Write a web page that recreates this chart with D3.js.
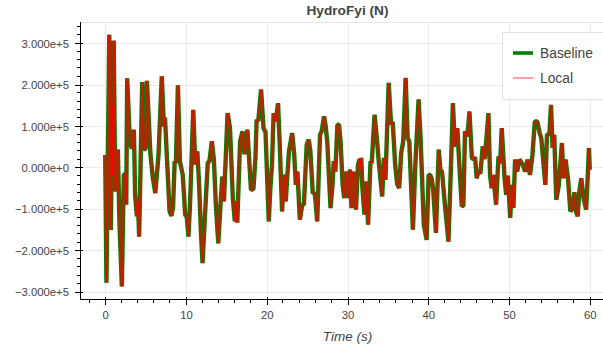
<!DOCTYPE html>
<html>
<head>
<meta charset="utf-8">
<script src="https://cdn.jsdelivr.net/npm/d3@7"></script>
<style>
  html, body { margin: 0; padding: 0; background: #fff; overflow: hidden; }
  text { font-family: "Liberation Sans", Arial, Helvetica, sans-serif; }
</style>
</head>
<body>
<svg id="chart" width="603" height="349"></svg>
<script>
// ---- data -------------------------------------------------------------
const chartTitle = "HydroFyi (N)";
const xAxisLabel = "Time (s)";
const seriesNames = ["Baseline", "Local"];

const timeSeconds = [
  0.0, 0.15, 0.5, 0.7, 0.85, 0.95, 1.05, 1.24, 1.56, 1.77, 2.06, 2.3, 2.5, 2.6, 2.72, 3.05, 3.3, 3.55, 3.7, 3.92,
  4.05, 4.2, 4.58, 4.8, 5.0, 5.16, 5.6, 5.9, 6.2, 6.6, 7.0, 7.27, 7.4, 7.7, 7.97, 8.2, 8.4, 8.6, 8.75, 9.0,
  9.25, 9.6, 9.9, 10.1, 10.3, 10.5, 10.9, 11.15, 11.4, 11.6, 11.85, 12.05, 12.4, 12.7, 12.9, 13.2, 13.45, 13.7, 14.0, 14.3,
  14.5, 14.7, 15.15, 15.45, 15.8, 16.05, 16.2, 16.35, 16.7, 17.0, 17.25, 17.6, 18.05, 18.35, 18.6, 18.75, 18.95, 19.3, 19.6, 19.85,
  20.25, 20.45, 20.65, 20.85, 21.1, 21.4, 21.6, 21.9, 22.1, 22.25, 22.35, 22.75, 23.15, 23.4, 23.6, 23.8, 24.1, 24.4, 24.6, 24.95,
  25.2, 25.4, 25.7, 25.95, 26.25, 26.6, 26.8, 27.1, 27.3, 27.5, 27.9, 28.15, 28.3, 28.5, 28.75, 28.95, 29.15, 29.4, 29.6, 29.8,
  30.1, 30.3, 30.5, 30.7, 31.05, 31.3, 31.5, 31.6, 31.7, 31.85, 32.1, 32.3, 32.55, 32.85, 33.0, 33.35, 33.65, 33.9, 34.3, 34.5,
  34.7, 35.1, 35.4, 35.6, 35.9, 36.15, 36.4, 36.65, 36.9, 37.2, 37.45, 37.65, 38.1, 38.4, 38.8, 39.05, 39.45, 39.8, 40.05, 40.25,
  40.4, 40.6, 40.95, 41.3, 41.5, 41.7, 42.1, 42.5, 42.9, 43.05, 43.3, 43.6, 43.85, 44.15, 44.35, 44.55, 44.85, 45.1, 45.4, 45.6,
  45.8, 46.0, 46.2, 46.45, 46.75, 47.0, 47.45, 47.65, 47.85, 48.05, 48.4, 48.7, 48.9, 49.1, 49.45, 49.65, 49.85, 50.15, 50.35, 50.55,
  50.75, 51.0, 51.3, 51.7, 52.0, 52.3, 52.6, 52.9, 53.2, 53.5, 53.8, 54.0, 54.3, 54.5, 54.7, 55.0, 55.2, 55.4, 55.6, 55.85,
  56.15, 56.55, 56.75, 57.0, 57.3, 57.6, 57.9, 58.1, 58.3, 58.5, 58.7, 58.95, 59.2, 59.55, 59.75, 59.9, 60.0
];

// hydrodynamic force, N
const baselineForce = [
  30000, -278000, 320000, -151000, 150000, -20000, 306000, -58000, 43000, -138000, -287000, -18000, -15000, -90000, 215000, 63000, 45000, 91000, -66000, -118000,
  -80000, -167000, 206000, 43000, 45000, 209000, 31000, -26000, -62000, 30000, 220000, 99000, 120000, 0, -106000, -117000, -96000, 15000, 10000, 198000,
  14000, -18000, -114000, -120000, -167000, -90000, 139000, 7000, 39000, -30000, -155000, -231000, -98000, 11000, 15000, 63000, 20000, -90000, -183000, -82000,
  -22000, -82000, 131000, 95000, -74000, -130000, -82000, -133000, 63000, 87000, 32000, 91000, -54000, -52000, 23000, 115000, 112000, 188000, 95000, 85000,
  -130000, -50000, 7000, 131000, 111000, 155000, 60000, -106000, -22000, -22000, -82000, 39000, 83000, 32000, -42000, -10000, -126000, -90000, -90000, 55000,
  67000, 40000, -62000, -62000, -130000, 79000, 87000, 123000, 100000, 60000, -98000, -40000, 15000, -10000, 103000, 103000, 60000, -42000, -74000, -10000,
  -74000, -5000, -98000, -10000, -102000, 7000, 20000, -5000, 23000, -50000, -114000, -34000, -138000, 15000, 10000, 127000, 67000, 7000, -70000, 23000,
  -30000, 204000, 103000, 110000, 7000, -40000, -50000, 35000, 63000, 216000, 71000, 63000, -150000, 7000, 164000, 70000, -138000, -175000, -18000, -18000,
  -26000, -50000, -158000, 43000, -5000, -10000, -98000, -179000, 55000, 155000, 50000, 95000, 7000, -94000, -92000, 87000, 75000, 135000, 23000, 20000,
  25000, -26000, -10000, -15000, 51000, 20000, 131000, -18000, -50000, -18000, -90000, 27000, 10000, 95000, -26000, -66000, -20000, -122000, -42000, -98000,
  19000, -10000, 19000, 7000, -10000, 19000, -18000, 30000, 111000, 111000, 83000, 70000, 2000, -42000, 79000, 80000, 151000, 47000, 79000, -78000,
  -45000, 59000, -26000, 19000, -26000, -106000, -98000, -60000, -106000, -118000, -60000, -26000, -70000, -102000, -20000, 47000, -6000
];

const localForce = [
  30000, -278000, 320000, -151000, 150000, -20000, 306000, -58000, 43000, -138000, -287000, -18000, -15000, -90000, 215000, 63000, 45000, 91000, -66000, -118000,
  -80000, -167000, 206000, 43000, 45000, 209000, 31000, -26000, -62000, 30000, 220000, 99000, 120000, 0, -106000, -117000, -96000, 15000, 10000, 198000,
  14000, -18000, -114000, -120000, -167000, -90000, 139000, 7000, 39000, -30000, -155000, -231000, -98000, 11000, 15000, 63000, 20000, -90000, -183000, -82000,
  -22000, -82000, 131000, 95000, -74000, -130000, -82000, -133000, 63000, 87000, 32000, 91000, -54000, -52000, 23000, 115000, 112000, 188000, 95000, 85000,
  -130000, -50000, 7000, 131000, 111000, 155000, 60000, -106000, -22000, -22000, -82000, 39000, 83000, 32000, -42000, -10000, -126000, -90000, -90000, 55000,
  67000, 40000, -62000, -62000, -130000, 79000, 87000, 123000, 100000, 60000, -98000, -40000, 15000, -10000, 103000, 103000, 60000, -42000, -74000, -10000,
  -74000, -5000, -98000, -10000, -102000, 7000, 20000, -5000, 23000, -50000, -114000, -34000, -138000, 15000, 10000, 127000, 67000, 7000, -70000, 23000,
  -30000, 204000, 103000, 110000, 7000, -40000, -50000, 35000, 63000, 216000, 71000, 63000, -150000, 7000, 164000, 70000, -138000, -175000, -18000, -18000,
  -26000, -50000, -158000, 43000, -5000, -10000, -98000, -179000, 55000, 155000, 50000, 95000, 7000, -94000, -92000, 87000, 75000, 135000, 23000, 20000,
  25000, -26000, -10000, -15000, 51000, 20000, 131000, -18000, -50000, -18000, -90000, 27000, 10000, 95000, -26000, -66000, -20000, -122000, -42000, -98000,
  19000, -10000, 19000, 7000, -10000, 19000, -18000, 30000, 111000, 111000, 83000, 70000, 2000, -42000, 79000, 80000, 151000, 47000, 79000, -78000,
  -45000, 59000, -26000, 19000, -26000, -106000, -98000, -60000, -106000, -118000, -60000, -26000, -70000, -102000, -20000, 47000, -6000
];

const xTickValues = [0, 10, 20, 30, 40, 50, 60];
const xTickLabels = ["0", "10", "20", "30", "40", "50", "60"];
const yTickValues = [-300000, -200000, -100000, 0, 100000, 200000, 300000];
const yTickLabels = ["\u22123.000e+5", "\u22122.000e+5", "\u22121.000e+5", "0.000e+0", "1.000e+5", "2.000e+5", "3.000e+5"];

// ---- layout -----------------------------------------------------------
const frame = { left: 81, right: 614, top: 22, bottom: 299 };
const xDomain = [-3, 63];
const yDomain = [-317500, 351000];
const colors = { baseline: "#008000", local: "#ff0000", grid: "#ececec", text: "#444444" };

const svg = d3.select("#chart");
const x = d3.scaleLinear().domain(xDomain).range([frame.left, frame.right]);
const y = d3.scaleLinear().domain(yDomain).range([frame.bottom, frame.top]);

const xMinor = d3.range(-2, 63, 2).filter(v => v % 10 !== 0);
const yMinor = d3.range(-300000, 351000, 20000).filter(v => v % 100000 !== 0);

// grid
const grid = svg.append("g").attr("shape-rendering", "crispEdges");
grid.selectAll("line.gx").data(xTickValues).join("line")
  .attr("x1", d => Math.round(x(d)) + 0.5).attr("x2", d => Math.round(x(d)) + 0.5)
  .attr("y1", frame.top).attr("y2", frame.bottom)
  .attr("stroke", colors.grid);
grid.selectAll("line.gy").data(yTickValues).join("line")
  .attr("y1", d => Math.round(y(d)) + 0.5).attr("y2", d => Math.round(y(d)) + 0.5)
  .attr("x1", frame.left).attr("x2", frame.right)
  .attr("stroke", colors.grid);
// plot outline (top edge)
grid.append("line")
  .attr("x1", frame.left).attr("x2", frame.right)
  .attr("y1", frame.top + 0.5).attr("y2", frame.top + 0.5)
  .attr("stroke", "#e5e5e5");

// series
svg.append("clipPath").attr("id", "plot-clip").append("rect")
  .attr("x", frame.left).attr("y", frame.top)
  .attr("width", frame.right - frame.left).attr("height", frame.bottom - frame.top);

const line = d3.line().x(d => x(d[0])).y(d => y(d[1]));
const baselinePts = timeSeconds.map((t, i) => [t, baselineForce[i]]);
const localPts = timeSeconds.map((t, i) => [t, localForce[i]]);
const localSegments = d3.pairs(localPts);

const plot = svg.append("g").attr("clip-path", "url(#plot-clip)");
plot.append("path").datum(baselinePts)
  .attr("d", line).attr("fill", "none")
  .attr("stroke", colors.baseline).attr("stroke-width", 4.4)
  .attr("stroke-linejoin", "bevel");
// the local run is stroked segment by segment so overlapping strokes build up
plot.append("g").selectAll("line").data(localSegments).join("line")
  .attr("x1", d => x(d[0][0])).attr("y1", d => y(d[0][1]))
  .attr("x2", d => x(d[1][0])).attr("y2", d => y(d[1][1]))
  .attr("stroke", colors.local).attr("stroke-width", 2.5)
  .attr("stroke-opacity", 0.65);

// axes
const xAxis = d3.axisBottom(x)
  .tickValues(xTickValues)
  .tickFormat((d, i) => xTickLabels[i])
  .tickSizeInner(6).tickSizeOuter(0).tickPadding(5);
const gx = svg.append("g").attr("transform", `translate(0,${frame.bottom})`).call(xAxis);
gx.select(".domain").attr("d", `M${frame.left},0.5H${frame.right}`).attr("stroke", "#000");
gx.selectAll(".tick line").attr("y1", -2).attr("y2", 6).attr("stroke", "#000");
gx.selectAll(".tick text")
  .attr("fill", colors.text).attr("font-size", "11.3px")
  .attr("font-family", "Liberation Sans, Arial, sans-serif")
  .attr("dy", null).attr("y", 20);
gx.selectAll("line.minor").data(xMinor).join("line").attr("class", "minor")
  .attr("x1", d => x(d)).attr("x2", d => x(d))
  .attr("y1", 0).attr("y2", 4).attr("stroke", "#000");

const yAxis = d3.axisLeft(y)
  .tickValues(yTickValues)
  .tickFormat((d, i) => yTickLabels[i])
  .tickSizeInner(6).tickSizeOuter(0).tickPadding(5);
const gy = svg.append("g").attr("transform", `translate(${frame.left},0)`).call(yAxis);
gy.select(".domain").attr("d", `M-0.5,${frame.top}V${frame.bottom + 1}`).attr("stroke", "#000");
gy.selectAll(".tick line").attr("x1", 2).attr("x2", -6).attr("stroke", "#000");
gy.selectAll(".tick text")
  .attr("fill", colors.text).attr("font-size", "11.3px")
  .attr("font-family", "Liberation Sans, Arial, sans-serif")
  .attr("x", -12).attr("dy", "0.36em");
gy.selectAll("line.minor").data(yMinor).join("line").attr("class", "minor")
  .attr("y1", d => y(d)).attr("y2", d => y(d))
  .attr("x1", 0).attr("x2", -4).attr("stroke", "#000");
svg.selectAll(".domain, .tick line, line.minor").attr("shape-rendering", "crispEdges");

// axis label
svg.append("text")
  .attr("x", (frame.left + frame.right) / 2).attr("y", 340.5)
  .attr("text-anchor", "middle")
  .attr("font-size", "13.5px").attr("font-style", "italic")
  .attr("fill", colors.text)
  .text(xAxisLabel);

// title
svg.append("text")
  .attr("x", (frame.left + frame.right) / 2).attr("y", 14.5)
  .attr("text-anchor", "middle")
  .attr("font-size", "13.7px").attr("font-weight", "bold")
  .attr("fill", colors.text)
  .text(chartTitle);

// legend
const legend = svg.append("g").attr("transform", `translate(${frame.right - 112},${frame.top + 10})`);
legend.append("rect")
  .attr("x", 0.5).attr("y", 0.5).attr("width", 102).attr("height", 67)
  .attr("fill", "#fff").attr("fill-opacity", 0.95)
  .attr("stroke", "#e0e0e0");
const legendItems = [
  { name: seriesNames[0], color: colors.baseline, width: 3.6, opacity: 1 },
  { name: seriesNames[1], color: colors.local, width: 1, opacity: 0.75 }
];
const item = legend.selectAll("g.item").data(legendItems).join("g")
  .attr("class", "item")
  .attr("transform", (d, i) => `translate(0,${21 + i * 25})`);
item.append("line")
  .attr("x1", 11).attr("x2", 31).attr("y1", 0).attr("y2", 0)
  .attr("stroke", d => d.color).attr("stroke-width", d => d.width)
  .attr("stroke-opacity", d => d.opacity);
item.append("text")
  .attr("x", 38).attr("y", 5)
  .attr("font-size", "13.8px").attr("fill", colors.text)
  .text(d => d.name);
</script>
</body>
</html>
